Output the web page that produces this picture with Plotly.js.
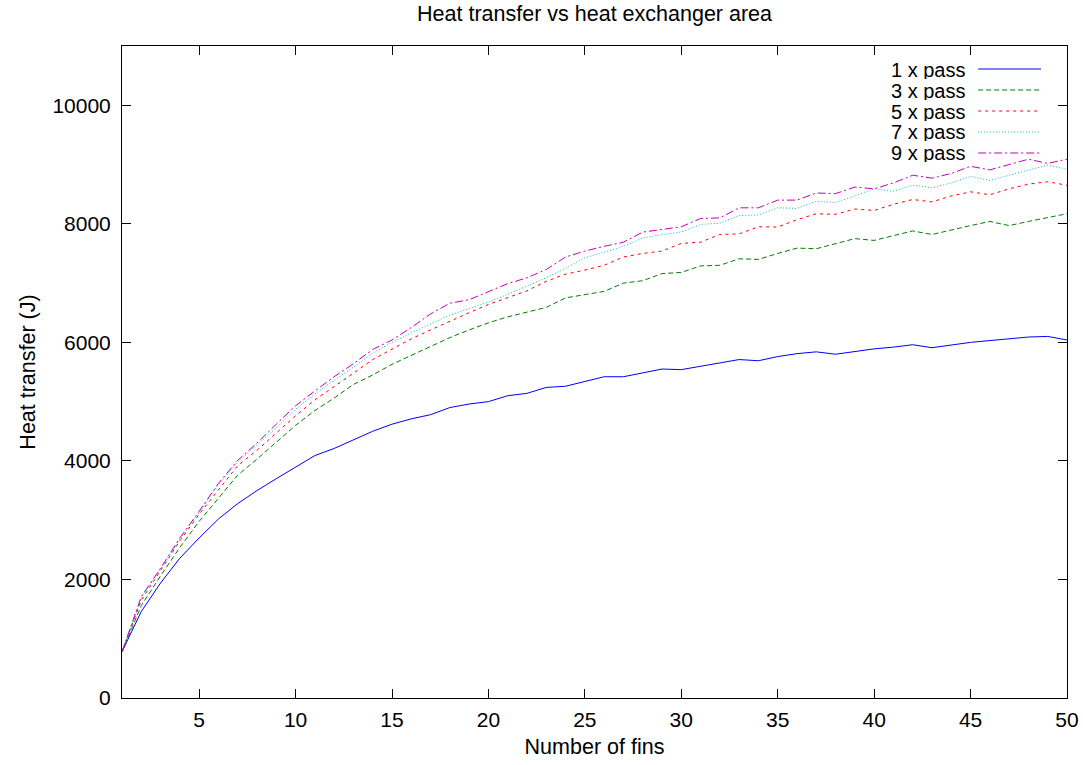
<!DOCTYPE html>
<html>
<head>
<meta charset="utf-8">
<script src="https://cdn.plot.ly/plotly-3.0.1.min.js"></script>
<style>html,body{margin:0;padding:0;background:#fff;}#chart{width:1083px;height:765px;}</style>
</head>
<body>
<div id="chart"></div>
<script>
const fins = Array.from({length: 50}, (_, i) => i + 1);

const pass1 = [780,1460,1940,2360,2700,3020,3280,3500,3700,3890,4090,4210,4350,4500,4620,4710,4780,4900,4960,5000,
  5100,5140,5240,5260,5340,5420,5420,5480,5550,5540,5600,5650,5710,5690,5760,5810,5840,5800,5850,5890,
  5920,5960,5910,5960,6000,6030,6060,6090,6100,6040];
const pass3 = [780,1560,2060,2540,2980,3380,3760,4030,4320,4600,4850,5060,5290,5450,5630,5780,5930,6080,6210,6330,
  6430,6510,6590,6750,6810,6860,7000,7040,7160,7180,7290,7300,7410,7400,7500,7590,7580,7670,7750,7720,
  7800,7880,7820,7900,7970,8040,7970,8040,8110,8170];
const pass5 = [780,1650,2150,2650,3100,3520,3920,4180,4470,4760,5030,5250,5480,5710,5880,6060,6210,6360,6500,6640,
  6750,6870,7030,7150,7220,7300,7440,7500,7540,7670,7690,7820,7830,7950,7945,8070,8170,8160,8250,8225,
  8330,8410,8370,8470,8540,8490,8590,8670,8710,8650];
const pass7 = [780,1690,2180,2680,3130,3600,3980,4270,4560,4870,5130,5360,5580,5820,6000,6160,6310,6460,6570,6680,
  6810,6950,7090,7250,7430,7520,7620,7760,7820,7860,7990,8010,8140,8150,8270,8260,8380,8360,8470,8590,
  8550,8650,8610,8690,8800,8730,8820,8910,8990,8920];
const pass9 = [780,1710,2190,2700,3150,3620,4010,4300,4620,4930,5180,5420,5640,5880,6040,6250,6480,6660,6720,6860,
  6990,7090,7230,7440,7540,7620,7690,7860,7910,7950,8090,8100,8270,8270,8400,8400,8520,8510,8620,8590,
  8690,8820,8770,8850,8970,8910,9000,9090,9020,9090];

const seriesNames = ["1 x pass", "3 x pass", "5 x pass", "7 x pass", "9 x pass"];
const seriesValues = [pass1, pass3, pass5, pass7, pass9];
const xTicks = [5,10,15,20,25,30,35,40,45,50];
const yTicks = [0,2000,4000,6000,8000,10000];

const colors = ["#0000ff", "#008000", "#ff0000", "#00c0c0", "#c000c0"];
const dashes = ["solid", "5px,3px", "3px,4px", "1px,2px", "8px,3px,2px,3px"];

const FONT = "Liberation Sans, Arial, sans-serif";

const traces = seriesValues.map((vals, i) => ({
  x: fins, y: vals, type: "scatter", mode: "lines", name: seriesNames[i],
  line: {color: colors[i], width: 1, dash: dashes[i]}, showlegend: false
}));

// custom legend (text left, line sample right, as in gnuplot)
const legendY = [0.9647, 0.9325, 0.9003, 0.8681, 0.8359];
const annotations = [];
const shapes = [];
seriesNames.forEach((nm, i) => {
  annotations.push({xref: "paper", yref: "paper", x: 0.893, y: legendY[i], xanchor: "right", yanchor: "middle",
    text: nm, showarrow: false, height: 19, valign: "middle", borderpad: 0,
    font: {family: FONT, size: 20, color: "#000"}});
  shapes.push({type: "line", xref: "paper", yref: "paper", x0: 0.906, x1: 0.9725, y0: legendY[i], y1: legendY[i],
    line: {color: colors[i], width: 1, dash: dashes[i]}});
});

const layout = {
  width: 1083, height: 765,
  margin: {l: 122, r: 16, t: 46, b: 67},
  paper_bgcolor: "#fff", plot_bgcolor: "#fff",
  font: {family: FONT, size: 21, color: "#000"},
  title: {text: "Heat transfer vs heat exchanger area", font: {family: FONT, size: 21.5, color: "#000"},
    x: 0.549, xanchor: "center", y: 0.982, yanchor: "middle", yref: "container"},
  xaxis: {range: [1, 50], tickvals: xTicks, ticktext: xTicks.map(String), ticks: "inside", ticklen: 9,
    tickcolor: "#000", showline: true, linecolor: "#000", linewidth: 1, mirror: "ticks", showgrid: false,
    zeroline: false, tickfont: {family: FONT, size: 21}, ticklabelstandoff: 3,
    title: {text: "Number of fins", font: {family: FONT, size: 21.5}, standoff: 8}},
  yaxis: {range: [0, 11000], tickvals: yTicks, ticktext: yTicks.map(String), ticks: "inside", ticklen: 9,
    tickcolor: "#000", showline: true, linecolor: "#000", linewidth: 1, mirror: "ticks", showgrid: false,
    zeroline: false, tickfont: {family: FONT, size: 21}, ticklabelstandoff: 6,
    title: {text: "Heat transfer (J)", font: {family: FONT, size: 21.5}, standoff: 10}},
  annotations: annotations,
  shapes: shapes,
  showlegend: false
};

Plotly.newPlot("chart", traces, layout, {staticPlot: true, displayModeBar: false});
</script>
</body>
</html>
